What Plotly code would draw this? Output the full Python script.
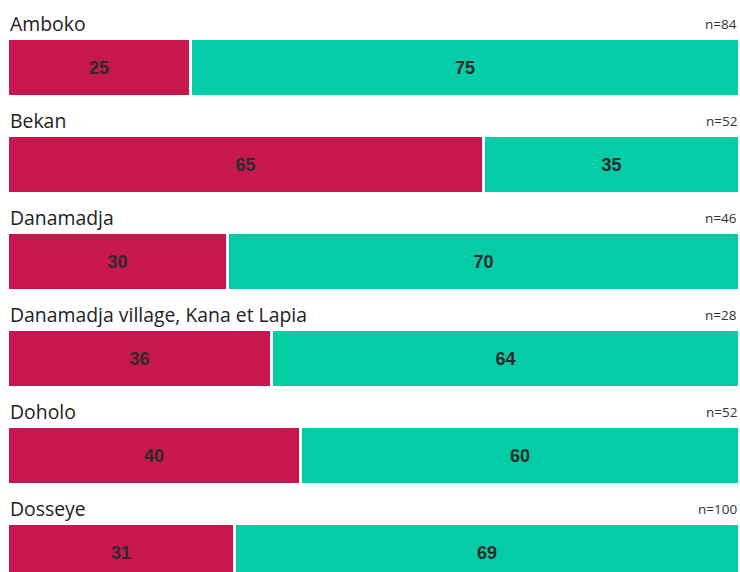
import plotly.graph_objects as go

# Share of responses per site (percent), with sample sizes
sites = ["Amboko", "Bekan", "Danamadja", "Danamadja village, Kana et Lapia", "Doholo", "Dosseye"]
share_a = [25, 65, 30, 36, 40, 31]
share_b = [75, 35, 70, 64, 60, 69]
sample_n = [84, 52, 46, 28, 52, 100]

COLOR_A = "#C8164F"
COLOR_B = "#03CCA7"
LABEL_FONT = dict(family="Liberation Sans, Arial, sans-serif", size=18, color="#2b2b2b", weight="bold")

rows = list(range(len(sites)))

fig = go.Figure()
for vals, color in ((share_a, COLOR_A), (share_b, COLOR_B)):
    fig.add_trace(go.Bar(
        x=vals, y=rows, orientation="h",
        marker=dict(color=color, line=dict(color="white", width=3)),
        width=0.59,
        text=[str(v) for v in vals],
        textposition="inside", insidetextanchor="middle",
        textfont=LABEL_FONT, insidetextfont=LABEL_FONT,
        hoverinfo="skip", cliponaxis=False,
    ))

for i, (name, n) in enumerate(zip(sites, sample_n)):
    fig.add_annotation(x=0, y=i - 0.455, xref="x", yref="y", text=name,
                       showarrow=False, xanchor="left", yanchor="middle", xshift=0,
                       font=dict(family="Open Sans, sans-serif", size=19.4, color="#222222"))
    fig.add_annotation(x=1, y=i - 0.455, xref="paper", yref="y", text=f"n={n}",
                       showarrow=False, xanchor="right", yanchor="middle", xshift=-1,
                       font=dict(family="Open Sans, sans-serif", size=13.5, color="#333333"))

fig.update_layout(
    barmode="stack",
    width=740, height=572,
    margin=dict(l=8, r=0, t=0, b=0),
    paper_bgcolor="white", plot_bgcolor="white",
    showlegend=False,
    bargap=0,
    xaxis=dict(range=[0, 100], visible=False, fixedrange=True),
    yaxis=dict(range=[(572 - 68) / 97, -68 / 97], visible=False, fixedrange=True),
)

fig.write_html("out.html")
